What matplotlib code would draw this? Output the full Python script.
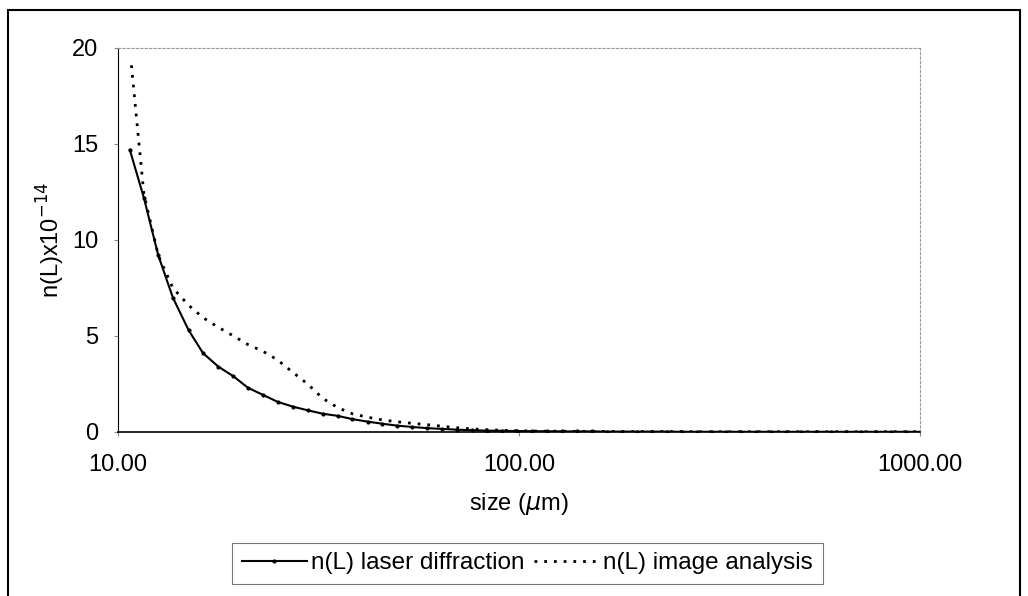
import matplotlib.pyplot as plt
from matplotlib.ticker import FixedLocator, NullLocator
from matplotlib.patches import Rectangle

plt.rcParams['font.family'] = ['Liberation Sans', 'DejaVu Sans']

# size classes (um)
size_laser = [10.7, 11.6, 12.6, 13.7, 15.0, 16.3, 17.8, 19.4, 21.1, 23.0,
              25.0, 27.3, 29.7, 32.4, 35.3, 38.4, 41.9, 45.6, 49.7, 54.2,
              59.0, 64.3, 70.1, 76.4, 83.2, 90.7, 98.8, 107.7, 117.4, 127.9,
              139.4, 151.9, 165.5, 180.3, 196.5, 214.2, 233.4, 254.3, 277.1, 302.0,
              329.1, 358.6, 390.8, 425.8, 464.0, 505.6, 551.0, 600.4, 654.2, 712.9,
              776.9, 846.5, 922.5, 1005.0]
n_laser = [14.7, 12.2, 9.2, 7.0, 5.3, 4.1, 3.4, 2.9, 2.3, 1.93,
           1.57, 1.32, 1.13, 0.95, 0.84, 0.67, 0.54, 0.43, 0.33, 0.26,
           0.20, 0.16, 0.12, 0.09, 0.07, 0.06, 0.05, 0.04, 0.04, 0.03,
           0.03, 0.03, 0.02, 0.02, 0.02, 0.02, 0.02, 0.01, 0.01, 0.01,
           0.01, 0.01, 0.01, 0.01, 0.01, 0.01, 0.01, 0.01, 0.01, 0.01,
           0.01, 0.01, 0.01, 0.01]

size_image = [10.8, 11.6, 12.6, 13.7, 15.0, 16.3, 17.8, 19.4, 21.1, 23.0,
              25.0, 27.3, 29.7, 32.4, 35.3, 38.4, 41.9, 45.6, 49.7, 54.2,
              59.0, 64.3, 70.1, 76.4, 83.2, 90.7, 98.8, 107.7, 117.4, 127.9,
              139.4, 151.9, 165.5, 180.3, 196.5, 214.2, 233.4, 254.3, 277.1, 302.0,
              329.1, 358.6, 390.8, 425.8, 464.0, 505.6, 551.0, 600.4, 654.2, 712.9,
              776.9, 846.5, 922.5, 1005.0]
n_image = [19.1, 12.4, 9.2, 7.5, 6.6, 5.95, 5.45, 5.0, 4.55, 4.2,
           3.75, 3.1, 2.5, 1.75, 1.27, 0.95, 0.77, 0.63, 0.53, 0.45,
           0.38, 0.30, 0.22, 0.16, 0.12, 0.09, 0.07, 0.05, 0.04, 0.04,
           0.03, 0.03, 0.03, 0.02, 0.02, 0.02, 0.02, 0.02, 0.01, 0.01,
           0.01, 0.01, 0.01, 0.01, 0.01, 0.01, 0.01, 0.01, 0.01, 0.01,
           0.01, 0.01, 0.01, 0.01]

y_ticks = [0, 5, 10, 15, 20]
x_ticks = [10, 100, 1000]
x_labels = ['10.00', '100.00', '1000.00']

fig = plt.figure(figsize=(10.28, 5.96), dpi=100)
ax = fig.add_axes([0.1148, 0.2752, 0.7802, 0.6443])

ax.plot(size_laser, n_laser, color='black', lw=1.5, marker='.', ms=4,
        label='n(L) laser diffraction')
ax.plot(size_image, n_image, color='black', lw=2, ls=(0, (1, 2.5)),
        label='n(L) image analysis')

ax.set_xscale('log')
ax.set_xlim(10, 1000)
ax.set_ylim(0, 20)
ax.xaxis.set_major_locator(FixedLocator(x_ticks))
ax.xaxis.set_minor_locator(NullLocator())
ax.set_xticks(x_ticks, x_labels)
ax.set_yticks(y_ticks)
ax.tick_params(labelsize=17, length=3, color='#888888')
ax.tick_params(axis='y', pad=11)
ax.tick_params(axis='x', pad=13)

for side in ['top', 'right']:
    ax.spines[side].set_color('#999999')
    ax.spines[side].set_linestyle((0, (2, 2)))
    ax.spines[side].set_linewidth(0.8)
ax.spines['left'].set_linewidth(0.8)
ax.spines['bottom'].set_linewidth(1.2)

ax.set_xlabel('size ($\\mu$m)', fontsize=17, labelpad=11)
ax.set_ylabel('n(L)x10$^{-14}$', fontsize=17, labelpad=4)

leg = fig.legend(loc='lower center', bbox_to_anchor=(0.513, 0.02), ncol=2,
                 fontsize=17.5, frameon=True, fancybox=False, edgecolor='#555555',
                 handlelength=2.7, handletextpad=0.15, columnspacing=0.4,
                 borderpad=0.4, borderaxespad=0)
leg.get_frame().set_linewidth(0.8)

# chart border
fig.patches.append(Rectangle((0.008, -0.01), 0.984, 0.994, transform=fig.transFigure,
                             fill=False, edgecolor='black', lw=1.5))

fig.savefig('out.png', dpi=100)
